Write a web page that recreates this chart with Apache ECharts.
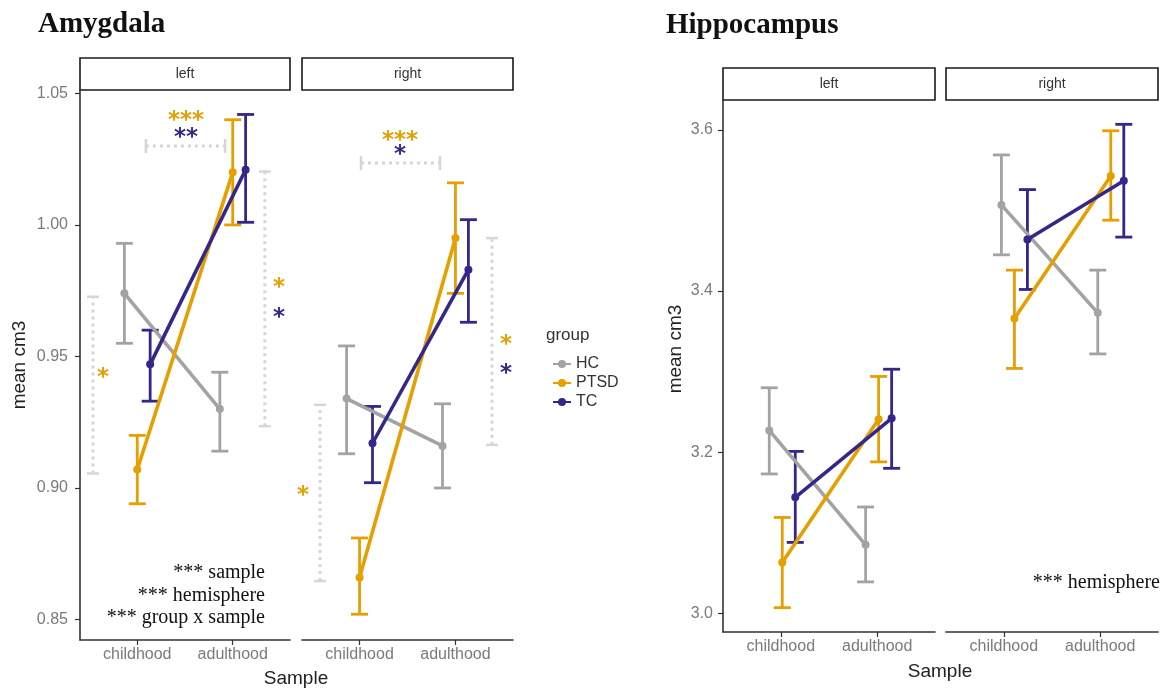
<!DOCTYPE html>
<html>
<head>
<meta charset="utf-8">
<script src="https://cdn.jsdelivr.net/npm/echarts@6/dist/echarts.min.js"></script>
<style>
  html, body { margin: 0; padding: 0; background: #fff; }
  #chart { width: 1169px; height: 690px; }
</style>
</head>
<body>
<div id="chart"></div>
<script>
(function () {
    "use strict";

    var categories = ['childhood', 'adulthood'];
    var groups = ['HC', 'PTSD', 'TC'];
    var colors = ['#a3a3a3', '#e69f00', '#35278a'];

    // rows: HC, PTSD, TC ; columns: childhood, adulthood
    var amygLeftMean  = [[0.974, 0.930], [0.907, 1.020], [0.947, 1.021]];
    var amygLeftLow   = [[0.955, 0.914], [0.894, 1.000], [0.933, 1.001]];
    var amygLeftHigh  = [[0.993, 0.944], [0.920, 1.040], [0.960, 1.042]];
    var amygRightMean = [[0.934, 0.916], [0.866, 0.995], [0.917, 0.983]];
    var amygRightLow  = [[0.913, 0.900], [0.852, 0.974], [0.902, 0.963]];
    var amygRightHigh = [[0.954, 0.932], [0.881, 1.016], [0.931, 1.002]];

    var hippLeftMean  = [[3.227, 3.085], [3.063, 3.241], [3.144, 3.242]];
    var hippLeftLow   = [[3.173, 3.039], [3.007, 3.188], [3.088, 3.180]];
    var hippLeftHigh  = [[3.280, 3.132], [3.119, 3.294], [3.201, 3.303]];
    var hippRightMean = [[3.507, 3.373], [3.366, 3.543], [3.464, 3.537]];
    var hippRightLow  = [[3.445, 3.322], [3.304, 3.488], [3.402, 3.467]];
    var hippRightHigh = [[3.569, 3.426], [3.426, 3.599], [3.526, 3.607]];

    var amygTicks = [0.85, 0.90, 0.95, 1.00, 1.05];
    var hippTicks = [3.0, 3.2, 3.4, 3.6];

    // significance brackets: [direction, at, from, to]
    var amygLeftBrackets = [
        ['h', 1.030, 0.09, 0.92],
        ['v', -0.464, 0.9055, 0.9727],
        ['v', 1.337, 0.9235, 1.0203]
    ];
    var amygRightBrackets = [
        ['h', 1.0235, 0.015, 0.839],
        ['v', -0.412, 0.8646, 0.9316],
        ['v', 1.381, 0.9164, 0.995]
    ];
    // stars: [text, x, y, group]
    var amygLeftStars = [
        ['***', 0.51, 1.0418, 1], ['**', 0.51, 1.0355, 2],
        ['*', -0.359, 0.944, 1],
        ['*', 1.484, 0.9783, 1], ['*', 1.484, 0.967, 2]
    ];
    var amygRightStars = [
        ['***', 0.422, 1.0342, 1], ['*', 0.422, 1.0289, 2],
        ['*', -0.59, 0.8993, 1],
        ['*', 1.527, 0.9567, 1], ['*', 1.527, 0.9457, 2]
    ];

    var dodge = 0.135;
    var axisFont = 'Liberation Sans, Arial, sans-serif';
    var serif = 'Liberation Serif, Times New Roman, serif';

    var panels = [
        {box: [80, 90, 210, 550], y: [0.8422, 1.0513], ticks: amygTicks, digits: 2, showY: true, margin: 12,
         mean: amygLeftMean, low: amygLeftLow, high: amygLeftHigh, shift: 0, strip: 'left',
         brackets: amygLeftBrackets, stars: amygLeftStars},
        {box: [302, 90, 211, 550], y: [0.8422, 1.0513], ticks: amygTicks, digits: 2, showY: false, margin: 12,
         mean: amygRightMean, low: amygRightLow, high: amygRightHigh, shift: 0, strip: 'right',
         brackets: amygRightBrackets, stars: amygRightStars},
        {box: [723, 100, 212, 532], y: [2.9768, 3.6372], ticks: hippTicks, digits: 1, showY: true, margin: 10,
         mean: hippLeftMean, low: hippLeftLow, high: hippLeftHigh, shift: 0.015, strip: 'left',
         brackets: [], stars: []},
        {box: [946, 100, 212, 532], y: [2.9768, 3.6372], ticks: hippTicks, digits: 1, showY: false, margin: 10,
         mean: hippRightMean, low: hippRightLow, high: hippRightHigh, shift: 0.11, strip: 'right',
         brackets: [], stars: []}
    ];

    var grids = [], xAxes = [], yAxes = [], series = [], graphics = [];

    panels.forEach(function (p, pi) {
        grids.push({left: p.box[0], top: p.box[1], width: p.box[2], height: p.box[3]});
        xAxes.push({
            gridIndex: pi, type: 'value', min: -0.6, max: 1.6,
            axisLine: {show: true, onZero: false, lineStyle: {color: '#333', width: 1.6}},
            axisTick: {show: true, customValues: [0, 1], length: 5, lineStyle: {color: '#333', width: 1.2}},
            axisLabel: {show: true, customValues: [0, 1], margin: 7, color: '#7a7a7a', fontSize: 16,
                fontFamily: axisFont, formatter: function (v) { return categories[Math.round(v)]; }},
            splitLine: {show: false}
        });
        yAxes.push({
            gridIndex: pi, type: 'value', min: p.y[0], max: p.y[1],
            axisLine: {show: p.showY, onZero: false, lineStyle: {color: '#333', width: 1.6}},
            axisTick: {show: p.showY, customValues: p.ticks, length: 5, lineStyle: {color: '#333', width: 1.2}},
            axisLabel: {show: p.showY, customValues: p.ticks, margin: p.margin, color: '#7a7a7a', fontSize: 16,
                fontFamily: axisFont, formatter: function (v) { return v.toFixed(p.digits); }},
            splitLine: {show: false}
        });

        // strip
        graphics.push({type: 'rect', shape: {x: p.box[0], y: p.box[1] - 32, width: p.box[2], height: 32},
            style: {fill: '#fff', stroke: '#1a1a1a', lineWidth: 1.6}});
        graphics.push({type: 'text', x: p.box[0] + p.box[2] / 2, y: p.box[1] - 16,
            style: {text: p.strip, font: '14px ' + axisFont, fill: '#333', textAlign: 'center', textVerticalAlign: 'middle'}});

        // significance brackets
        if (p.brackets.length) {
            series.push({
                type: 'custom', xAxisIndex: pi, yAxisIndex: pi, silent: true, z: 1,
                data: p.brackets.map(function (b, i) { return [i]; }),
                renderItem: function (params, api) {
                    var b = p.brackets[params.dataIndex];
                    var a, c, kids = [];
                    var dot = {stroke: '#d6d6d6', lineWidth: 3, lineDash: [3, 4]};
                    var cap = {stroke: '#d6d6d6', lineWidth: 2.5};
                    if (b[0] === 'h') {
                        a = api.coord([b[2], b[1]]); c = api.coord([b[3], b[1]]);
                        kids.push({type: 'line', shape: {x1: a[0], y1: a[1], x2: c[0], y2: c[1]}, style: dot});
                        kids.push({type: 'line', shape: {x1: a[0], y1: a[1] - 7, x2: a[0], y2: a[1] + 7}, style: cap});
                        kids.push({type: 'line', shape: {x1: c[0], y1: c[1] - 7, x2: c[0], y2: c[1] + 7}, style: cap});
                    } else {
                        a = api.coord([b[1], b[2]]); c = api.coord([b[1], b[3]]);
                        kids.push({type: 'line', shape: {x1: a[0], y1: a[1], x2: c[0], y2: c[1]}, style: dot});
                        kids.push({type: 'line', shape: {x1: a[0] - 6, y1: a[1], x2: a[0] + 6, y2: a[1]}, style: cap});
                        kids.push({type: 'line', shape: {x1: c[0] - 6, y1: c[1], x2: c[0] + 6, y2: c[1]}, style: cap});
                    }
                    return {type: 'group', children: kids};
                }
            });
            series.push({
                type: 'custom', xAxisIndex: pi, yAxisIndex: pi, silent: true, z: 5,
                data: p.stars.map(function (s, i) { return [i]; }),
                renderItem: function (params, api) {
                    var s = p.stars[params.dataIndex];
                    var pt = api.coord([s[1], s[2]]);
                    return {type: 'text', x: pt[0], y: pt[1] + 6,
                        style: {text: s[0], font: 'bold 23px DejaVu Sans, sans-serif', fill: colors[s[3]],
                            textAlign: 'center', textVerticalAlign: 'middle'}};
                }
            });
        }

        groups.forEach(function (g, gi) {
            var off = (gi - 1) * dodge + p.shift;
            // error bars
            series.push({
                type: 'custom', xAxisIndex: pi, yAxisIndex: pi, silent: true, z: 2 + gi * 0.1,
                encode: {x: 0, y: [1, 2]},
                data: categories.map(function (c, ci) { return [ci + off, p.low[gi][ci], p.high[gi][ci]]; }),
                renderItem: function (params, api) {
                    var lo = api.coord([api.value(0), api.value(1)]);
                    var hi = api.coord([api.value(0), api.value(2)]);
                    var w = 8.5;
                    var st = {stroke: colors[gi], lineWidth: 2.8};
                    return {type: 'group', children: [
                        {type: 'line', shape: {x1: lo[0], y1: lo[1], x2: hi[0], y2: hi[1]}, style: st},
                        {type: 'line', shape: {x1: lo[0] - w, y1: lo[1], x2: lo[0] + w, y2: lo[1]}, style: st},
                        {type: 'line', shape: {x1: hi[0] - w, y1: hi[1], x2: hi[0] + w, y2: hi[1]}, style: st}
                    ]};
                }
            });
            // means + lines
            series.push({
                type: 'line', name: g, xAxisIndex: pi, yAxisIndex: pi, z: 3 + gi * 0.1,
                data: categories.map(function (c, ci) { return [ci + off, p.mean[gi][ci]]; }),
                symbol: 'circle', symbolSize: 8, showSymbol: true,
                lineStyle: {color: colors[gi], width: 3.6},
                itemStyle: {color: colors[gi]},
                emphasis: {disabled: true},
                animation: false
            });
        });
    });

    // titles, axis names, annotations
    graphics.push(
        {type: 'text', x: 38, y: 25, style: {text: 'Amygdala', font: 'bold 29px ' + serif, fill: '#111', textVerticalAlign: 'middle'}},
        {type: 'text', x: 666, y: 26, style: {text: 'Hippocampus', font: 'bold 29px ' + serif, fill: '#111', textVerticalAlign: 'middle'}},
        {type: 'text', x: 20, y: 365, rotation: Math.PI / 2,
            style: {text: 'mean cm3', font: '19px ' + axisFont, fill: '#222', textAlign: 'center', textVerticalAlign: 'middle'}},
        {type: 'text', x: 676, y: 349, rotation: Math.PI / 2,
            style: {text: 'mean cm3', font: '19px ' + axisFont, fill: '#222', textAlign: 'center', textVerticalAlign: 'middle'}},
        {type: 'text', x: 296, y: 679, style: {text: 'Sample', font: '19px ' + axisFont, fill: '#222', textAlign: 'center', textVerticalAlign: 'middle'}},
        {type: 'text', x: 940, y: 672, style: {text: 'Sample', font: '19px ' + axisFont, fill: '#222', textAlign: 'center', textVerticalAlign: 'middle'}},
        {type: 'text', x: 265, y: 573, style: {text: '*** sample', font: '20px ' + serif, fill: '#111', textAlign: 'right', textVerticalAlign: 'middle'}},
        {type: 'text', x: 265, y: 596, style: {text: '*** hemisphere', font: '20px ' + serif, fill: '#111', textAlign: 'right', textVerticalAlign: 'middle'}},
        {type: 'text', x: 265, y: 618, style: {text: '*** group x sample', font: '20px ' + serif, fill: '#111', textAlign: 'right', textVerticalAlign: 'middle'}},
        {type: 'text', x: 1160, y: 583, style: {text: '*** hemisphere', font: '20px ' + serif, fill: '#111', textAlign: 'right', textVerticalAlign: 'middle'}},
        {type: 'text', x: 546, y: 335, style: {text: 'group', font: '17px ' + axisFont, fill: '#333', textVerticalAlign: 'middle'}}
    );

    var dom = document.getElementById('chart');
    var myChart = echarts.init(dom, null, {renderer: 'canvas'});
    var option = {
        animation: false,
        backgroundColor: '#fff',
        grid: grids,
        xAxis: xAxes,
        yAxis: yAxes,
        legend: {
            data: groups, orient: 'vertical', left: 547, top: 351,
            itemWidth: 18, itemHeight: 10, itemGap: 3,
            textStyle: {fontSize: 16, color: '#333', fontFamily: axisFont},
            selectedMode: false
        },
        series: series,
        graphic: graphics
    };
    myChart.setOption(option, true);
})();
</script>
</body>
</html>
